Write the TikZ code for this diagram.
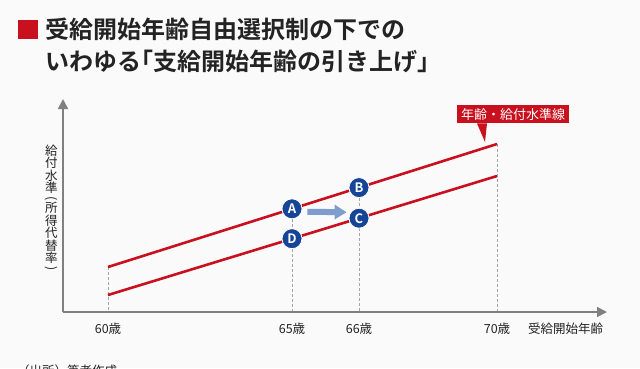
\documentclass[tikz,border=0pt]{standalone}
\usepackage{fontspec}
\setmainfont{Noto Sans CJK JP}[BoldFont={Noto Sans CJK JP Bold}]
\usetikzlibrary{arrows.meta}
\definecolor{myred}{RGB}{200,16,30}
\definecolor{navy}{RGB}{22,68,150}
\definecolor{lightarrow}{RGB}{127,157,204}
\definecolor{axisgray}{RGB}{128,128,128}
\definecolor{dashgray}{RGB}{165,165,165}
\definecolor{txt}{RGB}{35,35,35}
\definecolor{bg}{RGB}{250,250,250}
\newcommand\vparen[1]{\rotatebox[origin=c]{-90}{#1}}
\tikzset{
  axisline/.style={draw=axisgray, line width=1.6pt, -{Triangle[length=10pt,width=10pt]}},
  guide/.style={draw=dashgray, line width=0.9pt, dash pattern=on 3pt off 2pt},
  level/.style={draw=myred, line width=2.6pt},
  pt/.style={circle, fill=navy, draw=white, line width=0.8pt, minimum size=20pt, inner sep=0pt, text=white, font=\bfseries\fontsize{13}{13}\selectfont},
  tick/.style={font=\fontsize{12.5}{13}\selectfont, text=txt, inner sep=0pt},
  move/.style={draw=lightarrow, line width=6pt, -{Triangle[length=12pt,width=14pt]}},
}
\begin{document}
\begin{tikzpicture}[x=1pt,y=-1pt]
\path[use as bounding box] (0,0) rectangle (640,368);
\clip (0,0) rectangle (640,368);
\fill[bg] (0,0) rectangle (640,368);
% title
\fill[myred] (18,20) rectangle (38,39);
\node[anchor=west, inner sep=0pt, text=txt, font=\bfseries\fontsize{24}{24}\selectfont] (t1) at (45,29.5) {受給開始年齢自由選択制の下での};
\node[anchor=west, inner sep=0pt, text=txt, font=\bfseries\fontsize{24}{24}\selectfont] (t2) at (45,61) {いわゆる｢支給開始年齢の引き上げ｣};
% coordinates
\coordinate (O) at (63,312);
\coordinate (ytop) at (63,99);
\coordinate (xend) at (607,312);
\coordinate (u0) at (108,267);
\coordinate (u1) at (497,144);
\coordinate (l0) at (108,295);
\coordinate (l1) at (497,176);
\coordinate (g60) at (108,312);
\coordinate (g65) at (292,312);
\coordinate (g66) at (359,312);
\coordinate (g70) at (497,312);
% guides
\draw[guide] (u0) -- (g60);
\draw[guide] (292,208.8) -- (g65);
\draw[guide] (359,187.6) -- (g66);
\draw[guide] (u1) -- (g70);
% axes
\draw[axisline] (O) -- (ytop);
\draw[axisline] (O) -- (xend);
% level lines
\draw[level] (u0) -- (u1);
\draw[level] (l0) -- (l1);
% points
\node[pt] (A) at (292,208.8) {A};
\node[pt] (B) at (359,187.6) {B};
\node[pt] (C) at (359,218.2) {C};
\node[pt] (D) at (292,238.7) {D};
\draw[move] ([shift={(5,3)}]A.east) -- ([shift={(-2,-6)}]C.west);
% tick labels
\node[tick] (n60) at (108,329) {60歳};
\node[tick] (n65) at (292,329) {65歳};
\node[tick] (n66) at (359,329) {66歳};
\node[tick] (n70) at (497,329) {70歳};
\node[tick, anchor=west] (xlab) at (528,329) {受給開始年齢};
% y label
\node[tick, align=center, font=\fontsize{12.5}{12.5}\selectfont] (ylab) at (51.5,208.5) {給\\付\\水\\準\\[-2.5pt]\vparen{(}\\[-2.5pt]所\\得\\代\\替\\率\\[-2.5pt]\vparen{)}};
% callout
\node[fill=myred, text=white, inner xsep=4pt, inner ysep=3pt, font=\fontsize{13}{13}\selectfont, anchor=north west] (call) at (457,105) {年齢・給付水準線};
\coordinate (tip) at (485,142);
\fill[myred] ([xshift=20pt]call.south west) -- (tip) -- ([xshift=30pt]call.south west) -- cycle;
% footer
\node[anchor=base west, inner sep=0pt, text=txt, font=\fontsize{12.5}{13}\selectfont] (src) at (17,375) {（出所）筆者作成};
\end{tikzpicture}
\end{document}
